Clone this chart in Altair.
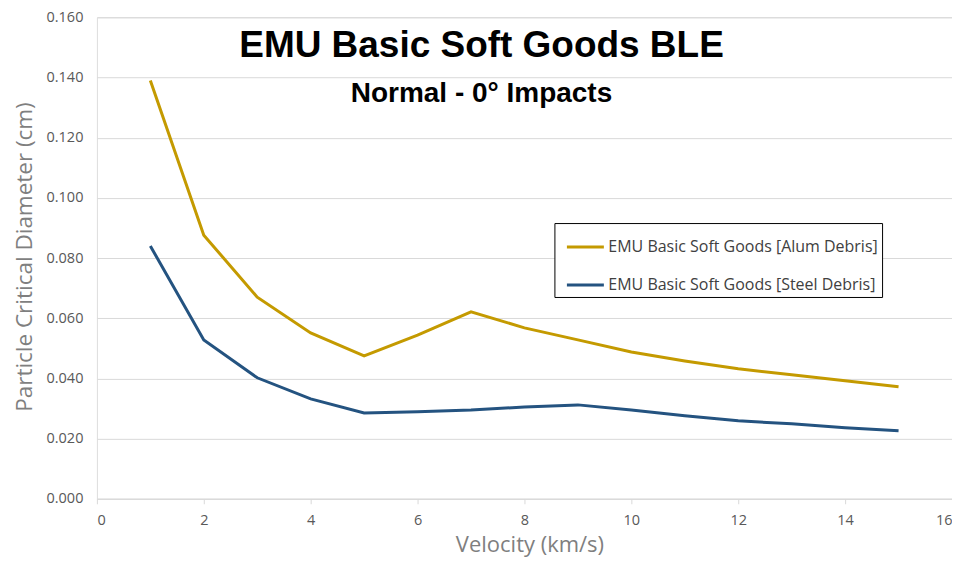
import altair as alt
import pandas as pd

velocity = list(range(1, 16))
alum = [0.139, 0.0876, 0.067, 0.0551, 0.0475, 0.0544, 0.0621, 0.0568, 0.0528,
        0.0488, 0.0458, 0.0432, 0.0412, 0.0392, 0.0372]
steel = [0.084, 0.0528, 0.0402, 0.0332, 0.0285, 0.0289, 0.0295, 0.0305, 0.0312,
         0.0295, 0.0276, 0.0259, 0.0249, 0.0236, 0.0226]
series = ["EMU Basic Soft Goods [Alum Debris]", "EMU Basic Soft Goods [Steel Debris]"]
colors = ["#C49A00", "#245380"]
x_ticks = [0, 2, 4, 6, 8, 10, 12, 14, 16]
y_ticks = [0.0, 0.02, 0.04, 0.06, 0.08, 0.10, 0.12, 0.14, 0.16]
title_text = "EMU Basic Soft Goods BLE"
subtitle_text = "Normal - 0° Impacts"

rows = []
for v, a in zip(velocity, alum):
    rows.append({"Velocity": v, "Diameter": a, "Series": series[0]})
for v, s in zip(velocity, steel):
    rows.append({"Velocity": v, "Diameter": s, "Series": series[1]})
df = pd.DataFrame(rows)

W, H = 856, 482
axis_font = "Open Sans"

lines = alt.Chart(df).mark_line(strokeWidth=3).encode(
    x=alt.X("Velocity:Q",
            scale=alt.Scale(domain=[0, 16], nice=False),
            axis=alt.Axis(values=x_ticks, title="Velocity (km/s)", grid=False,
                          domainColor="#d9d9d9", tickColor="#d9d9d9", tickSize=5,
                          labelFont=axis_font, labelFontSize=14.5, labelColor="#595959",
                          labelPadding=10, labelFlush=True,
                          titleFont=axis_font, titleFontSize=22, titleFontWeight="normal",
                          titleColor="#7f7f7f", titleX=W / 2 + 5, titleY=53,
                          titleBaseline="alphabetic", titleAlign="center")),
    y=alt.Y("Diameter:Q",
            scale=alt.Scale(domain=[0, 0.16], nice=False),
            axis=alt.Axis(values=y_ticks, format=".3f", title="Particle Critical Diameter (cm)",
                          domain=False, ticks=False, gridColor="#d9d9d9", gridWidth=1,
                          labelFont=axis_font, labelFontSize=14.5, labelColor="#595959",
                          labelPadding=14,
                          titleFont=axis_font, titleFontSize=22.5, titleFontWeight="normal",
                          titleColor="#7f7f7f", titleX=-72, titleY=239.5,
                          titleAngle=-90, titleBaseline="middle", titleAlign="center")),
    color=alt.Color("Series:N",
                    scale=alt.Scale(domain=series, range=colors),
                    legend=alt.Legend(title=None, orient="none", legendX=458, legendY=206,
                                      symbolType="stroke", symbolSize=1369,
                                      symbolStrokeWidth=3, symbolOffset=7,
                                      labelFont=axis_font,
                                      labelFontSize=16, labelColor="#404040",
                                      labelOffset=3, rowPadding=10, padding=4,
                                      strokeColor="#000000", fillColor="#ffffff",
                                      labelLimit=400)),
)

title_df = pd.DataFrame({"t": [title_text]})
sub_df = pd.DataFrame({"t": [subtitle_text]})

title = alt.Chart(title_df).mark_text(
    font="Liberation Sans", fontSize=37, fontWeight="bold", color="#000000",
    align="center", baseline="alphabetic"
).encode(x=alt.value(385), y=alt.value(40), text="t:N")

subtitle = alt.Chart(sub_df).mark_text(
    font="Liberation Sans", fontSize=28, fontWeight="bold", color="#000000",
    align="center", baseline="alphabetic"
).encode(x=alt.value(385), y=alt.value(85), text="t:N")

chart = alt.layer(lines, title, subtitle).properties(
    width=W, height=H,
    autosize=alt.AutoSizeParams(type="none"),
    padding={"left": 89, "top": 9, "right": 0, "bottom": 58},
).configure_view(stroke=None).configure(background="#ffffff")

chart.save("out.html", embed_options={"renderer": "svg", "actions": False})
